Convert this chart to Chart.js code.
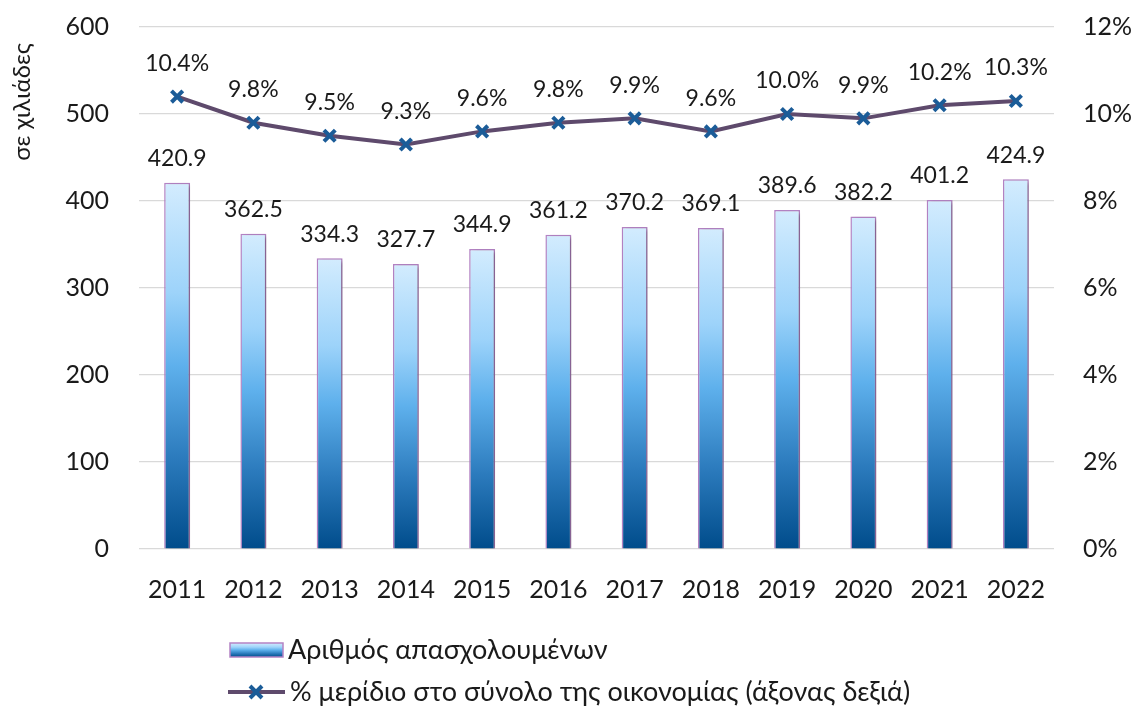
<!DOCTYPE html>
<html>
<head>
<meta charset="utf-8">
<script src="https://cdn.jsdelivr.net/npm/chart.js@4.4.0/dist/chart.umd.min.js"></script>
<style>
  html, body { margin: 0; padding: 0; background: #fff; }
  #wrap { width: 1132px; height: 712px; }
</style>
</head>
<body>
<div id="wrap"><canvas id="employmentChart"></canvas></div>
<script>
const years = ["2011", "2012", "2013", "2014", "2015", "2016", "2017", "2018", "2019", "2020", "2021", "2022"];
const employed = [420.9, 362.5, 334.3, 327.7, 344.9, 361.2, 370.2, 369.1, 389.6, 382.2, 401.2, 424.9];
const sharePct = [10.4, 9.8, 9.5, 9.3, 9.6, 9.8, 9.9, 9.6, 10.0, 9.9, 10.2, 10.3];
const barLabel = "Αριθμός απασχολουμένων";
const lineLabel = "% μερίδιο στο σύνολο της οικονομίας (άξονας δεξιά)";
const yTitle = "σε χιλιάδες";

const fontFamily = "Lato, 'Open Sans', sans-serif";
const lineColor = "#5e4a6c";
const markerColor = "#1b5c98";
const barBorder = "#b483c4";

function barGradient(ctx, yTop, yBottom) {
  const g = ctx.createLinearGradient(0, yTop, 0, yBottom);
  g.addColorStop(0, "#d3ecfe");
  g.addColorStop(0.3, "#9dd3fa");
  g.addColorStop(0.5, "#5eb0ec");
  g.addColorStop(0.75, "#2c7bbd");
  g.addColorStop(1, "#004c8b");
  return g;
}

// shadow behind bars
const barShadow = {
  id: "barShadow",
  beforeDatasetDraw(chart, args) {
    if (args.meta.type !== "bar") return;
    const ctx = chart.ctx;
    ctx.save();
    ctx.shadowColor = "rgba(0,0,0,0.28)";
    ctx.shadowOffsetX = 3;
    ctx.shadowOffsetY = 2;
    ctx.shadowBlur = 4;
  },
  afterDatasetDraw(chart, args) {
    if (args.meta.type !== "bar") return;
    chart.ctx.restore();
  },
};

// value labels above bars and points
const valueLabels = {
  id: "valueLabels",
  afterDatasetsDraw(chart) {
    const ctx = chart.ctx;
    ctx.save();
    ctx.fillStyle = "#1a1a1a";
    ctx.font = "23px " + fontFamily;
    ctx.textAlign = "center";
    ctx.textBaseline = "middle";
    chart.data.datasets.forEach((ds, i) => {
      const meta = chart.getDatasetMeta(i);
      meta.data.forEach((el, j) => {
        if (meta.type === "bar") {
          ctx.fillText(ds.data[j].toFixed(1), el.x, el.y - 24);
        } else {
          ctx.fillText(ds.data[j].toFixed(1) + "%", el.x, el.y - 33);
        }
      });
    });
    ctx.restore();
  },
};

// axis title and two-row legend
const extras = {
  id: "extras",
  afterDraw(chart) {
    const ctx = chart.ctx;
    ctx.save();
    ctx.fillStyle = "#1a1a1a";
    ctx.font = "24px " + fontFamily;
    ctx.translate(22, 102);
    ctx.rotate(-Math.PI / 2);
    ctx.textAlign = "center";
    ctx.textBaseline = "middle";
    ctx.fillText(yTitle, 0, 0);
    ctx.restore();

    ctx.save();
    ctx.font = "27px " + fontFamily;
    ctx.textBaseline = "middle";
    // bar entry
    const ry = 650;
    ctx.fillStyle = barGradient(ctx, ry - 7, ry + 7);
    ctx.fillRect(230, ry - 7, 53, 14);
    ctx.strokeStyle = barBorder;
    ctx.lineWidth = 1.5;
    ctx.strokeRect(230, ry - 7, 53, 14);
    ctx.fillStyle = "#1a1a1a";
    ctx.fillText(chart.data.datasets[1].label, 288, ry);
    // line entry
    const ly = 692;
    ctx.strokeStyle = lineColor;
    ctx.lineWidth = 4;
    ctx.beginPath();
    ctx.moveTo(228, ly);
    ctx.lineTo(285, ly);
    ctx.stroke();
    ctx.strokeStyle = markerColor;
    ctx.lineWidth = 4;
    ctx.beginPath();
    ctx.moveTo(250, ly - 6); ctx.lineTo(262, ly + 6);
    ctx.moveTo(262, ly - 6); ctx.lineTo(250, ly + 6);
    ctx.stroke();
    ctx.fillText(chart.data.datasets[0].label, 290, ly);
    ctx.restore();
  },
};

const ctx = document.getElementById("employmentChart").getContext("2d");

new Chart(ctx, {
  data: {
    labels: years,
    datasets: [
      {
        type: "line",
        label: lineLabel,
        data: sharePct,
        yAxisID: "y1",
        borderColor: lineColor,
        borderWidth: 4,
        tension: 0,
        pointStyle: "crossRot",
        pointRadius: 8,
        pointBorderWidth: 4,
        pointBorderColor: markerColor,
        pointBackgroundColor: markerColor,
        order: 0,
      },
      {
        type: "bar",
        label: barLabel,
        data: employed,
        yAxisID: "y",
        backgroundColor: (c) => {
          const chart = c.chart;
          if (!chart.chartArea || c.raw === undefined) return "#5eb0ec";
          const y = chart.scales.y;
          return barGradient(chart.ctx, y.getPixelForValue(c.raw), y.getPixelForValue(0));
        },
        borderColor: barBorder,
        borderWidth: 1.5,
        barPercentage: 0.34,
        categoryPercentage: 1,
        order: 1,
      },
    ],
  },
  options: {
    responsive: true,
    maintainAspectRatio: false,
    animation: false,
    layout: { padding: { top: 27, left: 0, right: 0, bottom: 0 } },
    plugins: {
      legend: { display: false },
      tooltip: { enabled: false },
    },
    scales: {
      x: {
        grid: { display: false },
        border: { display: false },
        ticks: { color: "#1a1a1a", font: { family: fontFamily, size: 25 }, padding: 18 },
        afterFit(scale) { scale.height = 163; },
      },
      y: {
        position: "left",
        min: 0,
        max: 600,
        ticks: { stepSize: 100, color: "#1a1a1a", font: { family: fontFamily, size: 25 }, padding: 30 },
        grid: { color: "#d9d9d9", lineWidth: 1.2, drawTicks: false },
        border: { display: false },
        afterFit(scale) {
          scale.width = 139;
          scale.paddingTop = 12;
          scale.paddingBottom = 12;
        },
      },
      y1: {
        position: "right",
        min: 0,
        max: 12,
        ticks: {
          stepSize: 2,
          color: "#1a1a1a",
          font: { family: fontFamily, size: 25 },
          padding: 29,
          callback: (v) => v + "%",
        },
        grid: { display: false, drawTicks: false },
        border: { display: false },
        afterFit(scale) {
          scale.width = 78;
          scale.paddingTop = 12;
          scale.paddingBottom = 12;
        },
      },
    },
  },
  plugins: [barShadow, valueLabels, extras],
});
</script>
</body>
</html>
